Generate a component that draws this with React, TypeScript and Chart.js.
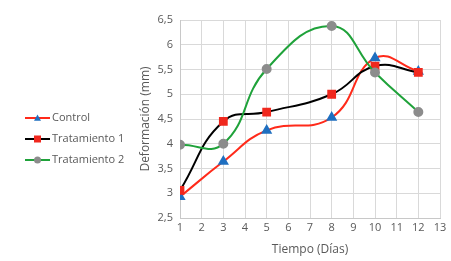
import { useEffect, useRef } from "react";
import { Chart, registerables } from "chart.js";

Chart.register(...registerables);

const days = [1, 3, 5, 8, 10, 12];
const control = [2.93, 3.64, 4.27, 4.53, 5.73, 5.46];
const tratamiento1 = [3.06, 4.45, 4.64, 5.0, 5.57, 5.44];
const tratamiento2 = [3.98, 4.0, 5.51, 6.38, 5.44, 4.64];
const seriesNames = ["Control", "Tratamiento 1", "Tratamiento 2"];
const lineColors = ["#ff2a1a", "#000000", "#1fa23a"];
const markerColors = ["#1f6fc0", "#f0281e", "#8c8c8c"];
const markerStyles = ["triangle", "rect", "circle"];
const markerRadii = [4.5, 4.8, 4];

const FONT = "'Open Sans', 'Noto Sans', sans-serif";
const TEXT = "#595959";

const legendPlugin = {
  id: "sideLegend",
  afterDraw(chart: any) {
    const ctx = chart.ctx;
    const ys = [118, 139, 160];
    ctx.save();
    seriesNames.forEach((name, i) => {
      const y = ys[i];
      ctx.strokeStyle = lineColors[i];
      ctx.lineWidth = 2;
      ctx.beginPath();
      ctx.moveTo(25, y);
      ctx.lineTo(50, y);
      ctx.stroke();
      ctx.fillStyle = markerColors[i];
      const r = 3.5;
      if (markerStyles[i] === "triangle") {
        ctx.beginPath();
        ctx.moveTo(37.5, y - r);
        ctx.lineTo(37.5 + r, y + r * 0.8);
        ctx.lineTo(37.5 - r, y + r * 0.8);
        ctx.closePath();
        ctx.fill();
      } else if (markerStyles[i] === "rect") {
        ctx.fillRect(37.5 - r, y - r, 2 * r, 2 * r);
      } else {
        ctx.beginPath();
        ctx.arc(37.5, y, r, 0, Math.PI * 2);
        ctx.fill();
      }
      ctx.fillStyle = TEXT;
      ctx.font = `11px ${FONT}`;
      ctx.textBaseline = "middle";
      ctx.textAlign = "left";
      ctx.fillText(name, 52, y);
    });
    ctx.restore();
  },
};

export default function App() {
  const ref = useRef<HTMLCanvasElement>(null);
  useEffect(() => {
    const sets = [control, tratamiento1, tratamiento2].map((vals, i) => ({
      label: seriesNames[i],
      data: vals.map((v, j) => ({ x: days[j], y: v })),
      borderColor: lineColors[i],
      backgroundColor: markerColors[i],
      pointBackgroundColor: markerColors[i],
      pointBorderColor: markerColors[i],
      pointStyle: markerStyles[i],
      pointRadius: markerRadii[i],
      borderWidth: 2,
      tension: 0.45,
      order: 3 - i,
    }));
    const chart = new Chart(ref.current!, {
      type: "line",
      data: { datasets: sets as any },
      options: {
        animation: false,
        responsive: false,
        layout: { padding: { left: 138, right: 11, top: 20, bottom: 4 } },
        plugins: { legend: { display: false }, tooltip: { enabled: false } },
        scales: {
          x: {
            type: "linear",
            min: 1,
            max: 13,
            ticks: { stepSize: 1, color: TEXT, font: { family: FONT, size: 11 }, padding: 3 },
            grid: { color: "#d9d9d9", drawTicks: false },
            border: { color: "#c8c8c8" },
            title: {
              display: true,
              text: "Tiempo (Días)",
              color: TEXT,
              font: { family: FONT, size: 12 },
              padding: { top: 4, bottom: 0 },
            },
            afterFit: (s: any) => {
              s.height = 39;
            },
          },
          y: {
            min: 2.5,
            max: 6.5,
            ticks: {
              stepSize: 0.5,
              color: TEXT,
              font: { family: FONT, size: 11 },
              padding: 7,
              callback: (v: any) => String(v).replace(".", ","),
            },
            grid: { color: "#d9d9d9", drawTicks: false },
            border: { color: "#c8c8c8" },
            title: {
              display: true,
              text: "Deformación (mm)",
              color: TEXT,
              font: { family: FONT, size: 12 },
              padding: { top: 0, bottom: 2 },
            },
            afterFit: (s: any) => {
              s.width = 42;
            },
          },
        },
      },
      plugins: [legendPlugin],
    });
    return () => chart.destroy();
  }, []);
  return (
    <div style={{ position: "absolute", left: 0, top: 0, width: 451, height: 261, background: "#fff" }}>
      <canvas ref={ref} width={451} height={261} />
    </div>
  );
}
